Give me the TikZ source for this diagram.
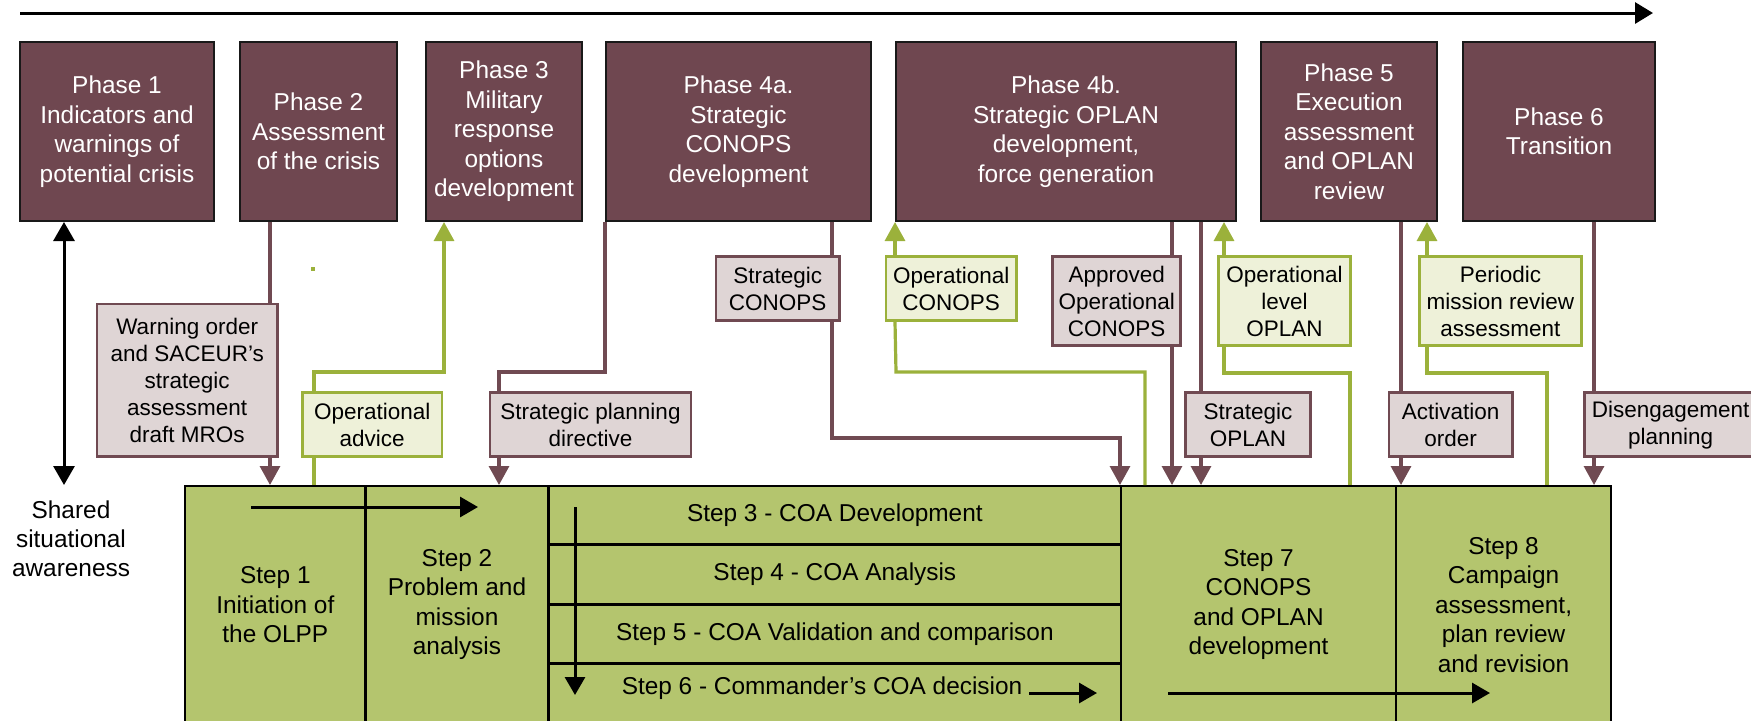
\documentclass[tikz,border=0pt]{standalone}
\usepackage{fontspec}
\setmainfont{Liberation Sans}
\usetikzlibrary{arrows.meta}
\definecolor{maroon}{RGB}{111,71,80}
\definecolor{maroonline}{RGB}{112,74,82}
\definecolor{mauve}{RGB}{223,213,213}
\definecolor{olive}{RGB}{155,177,59}
\definecolor{paleolive}{RGB}{238,241,217}
\definecolor{stepgreen}{RGB}{180,197,110}

\begin{document}
\begin{tikzpicture}[x=0.5pt,y=-0.5pt]
            \tikzstyle{ph}=[draw=black!90,line width=1pt,fill=maroon,text=white,minimum height=89.5pt,inner sep=0pt,align=center,font=\fontsize{12.2}{14.75}\selectfont]
            \tikzstyle{mb}=[draw=maroonline,line width=1.3pt,fill=mauve,inner sep=0pt,align=center,minimum height=32pt,font=\fontsize{11.25}{13.5}\selectfont]
            \tikzstyle{gb}=[mb,draw=olive,fill=paleolive]
            \tikzstyle{st}=[draw=black,line width=1.2pt,fill=stepgreen,inner sep=0pt,align=center,anchor=north west,font=\fontsize{12.2}{14.75}\selectfont]
            \tikzstyle{ml}=[draw=maroonline,line width=1.6pt]
            \tikzstyle{gl}=[draw=olive,line width=1.6pt]
            \tikzstyle{mt}=[-{Triangle[width=10pt,length=9.5pt]}]
            \tikzstyle{bk}=[draw=black,line width=1.5pt,-{Triangle[width=10pt,length=9pt]}]

            \useasboundingbox (0,0) rectangle (1751,720);

            \node [ph,minimum width=97pt] (p1) at (117,131.5) {Phase 1\\Indicators and\\warnings of\\potential crisis};
            \node [ph,minimum width=78.5pt] (p2) at (318.5,131.5) {Phase 2\\Assessment\\of the crisis};
            \node [ph,minimum width=78pt] (p3) at (504,131.5) {Phase 3\\Military\\response\\options\\development};
            \node [ph,minimum width=132.5pt] (p4a) at (738.5,131.5) {Phase 4a.\\Strategic\\CONOPS\\development};
            \node [ph,minimum width=170pt] (p4b) at (1066,131.5) {Phase 4b.\\Strategic OPLAN\\development,\\force generation};
            \node [ph,minimum width=88pt] (p5) at (1349,131.5) {Phase 5\\Execution\\assessment\\and OPLAN\\review};
            \node [ph,minimum width=96pt] (p6) at (1559,131.5) {Phase 6\\Transition};

            \node [mb,minimum width=90.35pt,minimum height=76.35pt] (w) at (187.2,380.4) {Warning order\\and SACEUR’s\\strategic\\assessment\\draft MROs};
            \node [gb,minimum width=69.85pt] (oa) at (372.2,424.5) {Operational\\advice};
            \node [mb,minimum width=100.5pt] (spd) at (590.5,424.6) {Strategic planning\\directive};
            \node [mb,minimum width=61.8pt] (sc) at (777.7,288.7) {Strategic\\CONOPS};
            \node [gb,minimum width=65.15pt] (oc) at (951.2,288.7) {Operational\\CONOPS};
            \node [mb,minimum width=64pt,minimum height=44.5pt] (aoc) at (1116.7,301.2) {Approved\\Operational\\CONOPS};
            \node [mb,minimum width=62.3pt] (so) at (1247.9,424.7) {Strategic\\OPLAN};
            \node [gb,minimum width=66.15pt,minimum height=44.5pt] (olo) at (1284.4,301.2) {Operational\\level\\OPLAN};
            \node [mb,minimum width=61.9pt] (ao) at (1450.7,424.7) {Activation\\order};
            \node [gb,minimum width=80.85pt,minimum height=44.5pt] (pmr) at (1500.4,301.2) {Periodic\\mission review\\assessment};
            \node [mb,minimum width=86.35pt] (dp) at (1670.6,424.7) {Disengagement\\planning};

            \node [st,minimum width=90.15pt,minimum height=118.5pt] (s1) at (184,485) {Step 1\\Initiation of\\the OLPP};
            \node [st,minimum width=91.5pt,minimum height=118.5pt] (s2) at (364.3,485) {Step 2\\Problem and\\mission\\analysis};
            \node [st,minimum width=286.35pt,minimum height=29.15pt] (s3) at (547.3,485) {Step 3 - COA Development};
            \node [st,minimum width=286.35pt,minimum height=30pt] (s4) at (547.3,543.3) {Step 4 - COA Analysis};
            \node [st,minimum width=286.35pt,minimum height=29.5pt] (s5) at (547.3,603.3) {Step 5 - COA Validation and comparison};
            \node [st,minimum width=286.35pt,minimum height=29.85pt] (s6) at (547.3,662.3) {};
            \node [st,minimum width=137.35pt,minimum height=118.5pt] (s7) at (1120,485) {Step 7\\CONOPS\\and OPLAN\\development};
            \node [st,minimum width=107.65pt,minimum height=118.5pt] (s8) at (1394.7,485) {Step 8\\Campaign\\assessment,\\plan review\\and revision};

            \node [font=\fontsize{12.2}{14.75}\selectfont] (t6) at (822,688) {Step 6 - Commander’s COA decision};
            \node [align=center,font=\fontsize{12.2}{14.5}\selectfont] (ssa) at (71,539) {Shared\\situational\\awareness};

            \fill [olive] (311,267) rectangle (315,271);

            \draw [ml] (p2.south -| 270,0) -- (w.north -| 270,0);
            \draw [ml,mt] (w.south -| 270,0) -- (s1.north -| 270,0);
            \draw [gl,mt] (oa.north -| 314,0) -- (314,372) -| (p3.south -| 444,0);
            \draw [gl] (oa.south -| 314,0) -- (s1.north -| 314,0);
            \draw [ml] (spd.north -| 499,0) -- (499,372) -| (p4a.south west);
            \draw [ml,mt] (spd.south -| 499,0) -- (s2.north -| 499,0);
            \draw [ml] (p4a.south -| 832,0) -- (sc.north -| 832,0);
            \draw [ml,mt] (sc.south -| 832,0) -- (832,438) -| (s7.north west);
            \draw [gl,mt] (oc.north -| p4b.south west) -- (p4b.south west);
            \draw [gl] (oc.south -| p4b.south west) -- (896,372) -| (s7.north -| 1145,0);
            \draw [ml] (p4b.south -| 1172,0) -- (aoc.north -| 1172,0);
            \draw [ml,mt] (aoc.south -| 1172,0) -- (s7.north -| 1172,0);
            \draw [ml] (p4b.south -| 1201,0) -- (so.north -| 1201,0);
            \draw [ml,mt] (so.south -| 1201,0) -- (s7.north -| 1201,0);
            \draw [gl,mt] (olo.north -| 1224,0) -- (p4b.south -| 1224,0);
            \draw [gl] (olo.south -| 1224,0) -- (1224,373) -| (s7.north -| 1350,0);
            \draw [ml] (p5.south -| 1401,0) -- (ao.north -| 1401,0);
            \draw [ml,mt] (ao.south -| 1401,0) -- (s8.north -| 1401,0);
            \draw [gl,mt] (pmr.north -| 1427,0) -- (p5.south -| 1427,0);
            \draw [gl] (pmr.south -| 1427,0) -- (1427,373) -| (s8.north -| 1547,0);
            \draw [ml] (p6.south -| 1594,0) -- (dp.north -| 1594,0);
            \draw [ml,mt] (dp.south -| 1594,0) -- (s8.north -| 1594,0);

            \coordinate (t0) at (20,13);
            \coordinate (t1) at (1653,13);
            \coordinate (a1) at (251,507);
            \coordinate (a2) at (478,507);
            \coordinate (a3) at (575,507);
            \coordinate (a4) at (575,695);
            \coordinate (a6) at (1097,693);
            \coordinate (a7) at (1168,693);
            \coordinate (a8) at (1490,693);
            \draw [bk,-{Triangle[width=10.5pt,length=9pt]}] (t0) -- (t1);
            \draw [bk,{Triangle[width=10.5pt,length=9.5pt]}-{Triangle[width=10.5pt,length=9.5pt]}] (p1.south -| 64,0) -- (s1.north -| 64,0);
            \draw [bk] (a1) -- (a2);
            \draw [bk] (a3) -- (a4);
            \draw [bk] (t6.east |- a6) -- (a6);
            \draw [bk] (a7) -- (a8);
        \end{tikzpicture}
\end{document}
